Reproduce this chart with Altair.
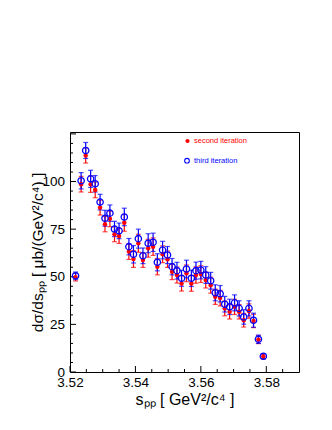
import altair as alt
import pandas as pd

# ---- data ----
s_pp = [3.5217, 3.5234, 3.5248, 3.5263, 3.5277, 3.5292, 3.5307, 3.5322, 3.5336, 3.5350,
        3.5366, 3.5380, 3.5394, 3.5409, 3.5423, 3.5439, 3.5454, 3.5467, 3.5483, 3.5498,
        3.5512, 3.5527, 3.5541, 3.5556, 3.5571, 3.5585, 3.5600, 3.5615, 3.5630, 3.5644,
        3.5659, 3.5673, 3.5688, 3.5703, 3.5717, 3.5731, 3.5747, 3.5761, 3.5776, 3.5791]
third = [50.5, 100.4, 116.3, 101.4, 98.8, 89.2, 80.7, 83.4, 75.1, 74.1,
         81.4, 65.8, 61.8, 70.0, 61.0, 67.6, 68.1, 57.6, 64.0, 61.4,
         55.3, 53.2, 49.2, 54.1, 49.2, 53.2, 53.5, 50.9, 47.9, 41.6,
         41.1, 35.6, 34.2, 36.3, 33.4, 28.9, 33.4, 27.2, 17.2, 8.3]
third_err = [2.0, 4.3, 4.2, 4.5, 4.3, 4.1, 4.2, 4.3, 4.0, 4.1,
             4.6, 4.3, 4.6, 5.0, 4.1, 5.0, 4.8, 4.5, 4.6, 4.5,
             4.3, 4.4, 4.2, 4.6, 4.3, 4.5, 4.6, 4.4, 4.4, 4.2,
             4.3, 4.1, 4.0, 4.2, 4.0, 3.8, 4.0, 3.7, 2.2, 1.3]
second = [49.8, 98.6, 113.7, 98.6, 95.6, 86.3, 77.6, 80.4, 72.3, 71.4,
          78.3, 63.2, 59.3, 67.6, 58.8, 65.0, 65.8, 55.3, 61.8, 59.2,
          52.6, 50.9, 46.5, 51.8, 46.5, 50.9, 51.4, 48.3, 45.6, 39.5,
          38.8, 33.4, 31.6, 34.2, 31.6, 27.2, 32.0, 26.8, 17.0, 8.1]
second_err = [2.0, 4.1, 4.0, 4.3, 4.1, 3.9, 4.0, 4.1, 3.9, 3.9,
              4.4, 4.1, 4.4, 4.7, 3.9, 4.7, 4.6, 4.3, 4.4, 4.3,
              4.1, 4.2, 4.0, 4.4, 4.1, 4.3, 4.4, 4.2, 4.2, 4.0,
              4.1, 3.9, 3.8, 4.0, 3.8, 3.6, 3.8, 3.5, 2.1, 1.3]

x_major = [3.52, 3.54, 3.56, 3.58]
x_minor = [3.525, 3.53, 3.535, 3.545, 3.55, 3.555, 3.565, 3.57, 3.575, 3.585]
y_major = [0, 25, 50, 75, 100, 125]
y_labels = [0, 25, 50, 75, 100]
y_minor = [5, 10, 15, 20, 30, 35, 40, 45, 55, 60, 65, 70, 80, 85, 90, 95, 105, 110, 115, 120]
legend_labels = ["second iteration", "third iteration"]

# ---- layout / style ----
W, H = 229, 240
XDOM = [3.52, 3.59]
YDOM = [0, 126]
RED = "#ff0000"
BLUE = "#0000ff"
FONT = "Liberation Sans"

df = pd.DataFrame({"x": s_pp, "t": third, "te": third_err, "s": second, "se": second_err})
df["t_lo"] = df["t"] - df["te"]
df["t_hi"] = df["t"] + df["te"]
df["s_lo"] = df["s"] - df["se"]
df["s_hi"] = df["s"] + df["se"]

xs = alt.Scale(domain=XDOM, nice=False, zero=False)
ys = alt.Scale(domain=YDOM, nice=False, zero=False)

x_axis = alt.Axis(values=x_major, format=".2f", ticks=False, tickSize=0, domain=False, grid=False,
                  labelFontSize=13.5, labelFont=FONT, labelColor="black", labelPadding=3,
                  labelFlush=False, labelOverlap=False,
                  title="sₚₚ [ GeV²/c⁴ ]", titleFont=FONT, titleFontSize=16,
                  titleFontWeight="normal", titleColor="black",
                  titleX=114.5, titleY=27, titleBaseline="middle", titleAlign="center")
y_axis = alt.Axis(values=y_labels, format="d", ticks=False, tickSize=0, domain=False, grid=False,
                  labelFontSize=13.5, labelFont=FONT, labelColor="black", labelPadding=5.5,
                  labelFlush=False, labelOverlap=False,
                  title="dσ/dsₚₚ [ μb/(GeV²/c⁴) ]", titleFont=FONT, titleFontSize=15.5,
                  titleFontWeight="normal", titleColor="black",
                  titleX=-33, titleY=120, titleBaseline="middle", titleAlign="center", titleAngle=-90)


def X(field):
    return alt.X(field, type="quantitative", scale=xs, axis=x_axis)


def Y(field):
    return alt.Y(field, type="quantitative", scale=ys, axis=y_axis)


base = alt.Chart(df)

layers = []
for lo, hi, val, col in [("s_lo", "s_hi", "s", RED), ("t_lo", "t_hi", "t", BLUE)]:
    layers.append(base.mark_rule(color=col, strokeWidth=1.2).encode(x=X("x"), y=Y(lo), y2=alt.Y2(hi)))
    layers.append(base.mark_tick(color=col, orient="horizontal", size=5, thickness=1.2).encode(x=X("x"), y=Y(lo)))
    layers.append(base.mark_tick(color=col, orient="horizontal", size=5, thickness=1.2).encode(x=X("x"), y=Y(hi)))

layers.append(base.mark_circle(color=RED, size=20, opacity=1).encode(x=X("x"), y=Y("s")))
layers.append(base.mark_point(shape="circle", filled=False, color=BLUE, size=40, strokeWidth=1.3,
                              opacity=1).encode(x=X("x"), y=Y("t")))

# inner ticks (ROOT style)
xmaj = alt.Chart(pd.DataFrame({"v": x_major})).mark_rule(color="black", strokeWidth=1).encode(
    x=X("v"), y=alt.value(H), y2=alt.value(H - 6))
xmin = alt.Chart(pd.DataFrame({"v": x_minor})).mark_rule(color="black", strokeWidth=1).encode(
    x=X("v"), y=alt.value(H), y2=alt.value(H - 3))
ymaj = alt.Chart(pd.DataFrame({"v": y_major})).mark_rule(color="black", strokeWidth=1).encode(
    y=Y("v"), x=alt.value(0), x2=alt.value(6))
ymin = alt.Chart(pd.DataFrame({"v": y_minor})).mark_rule(color="black", strokeWidth=1).encode(
    y=Y("v"), x=alt.value(0), x2=alt.value(3))

# legend
leg = pd.DataFrame({"label": legend_labels})
leg_red = alt.Chart(leg.iloc[[0]]).mark_circle(color=RED, size=18, opacity=1).encode(
    x=alt.value(117.5), y=alt.value(9))
leg_red_t = alt.Chart(leg.iloc[[0]]).mark_text(align="left", baseline="middle", color=RED,
                                               fontSize=7.5, font=FONT).encode(
    x=alt.value(124), y=alt.value(9), text="label:N")
leg_blue = alt.Chart(leg.iloc[[1]]).mark_point(shape="circle", filled=False, color=BLUE, size=22,
                                              strokeWidth=1.1, opacity=1).encode(
    x=alt.value(117), y=alt.value(28.7))
leg_blue_t = alt.Chart(leg.iloc[[1]]).mark_text(align="left", baseline="middle", color=BLUE,
                                                fontSize=7.5, font=FONT).encode(
    x=alt.value(124), y=alt.value(28.7), text="label:N")

chart = alt.layer(xmaj, xmin, ymaj, ymin, *layers, leg_red, leg_red_t, leg_blue, leg_blue_t).properties(
    width=W, height=H,
    autosize=alt.AutoSizeParams(type="none"),
    padding={"left": 62, "top": 124, "right": 25, "bottom": 45},
    background="white",
).configure_view(stroke="black", strokeWidth=1)

chart.save("out.html", embed_options={"renderer": "svg", "actions": False})
